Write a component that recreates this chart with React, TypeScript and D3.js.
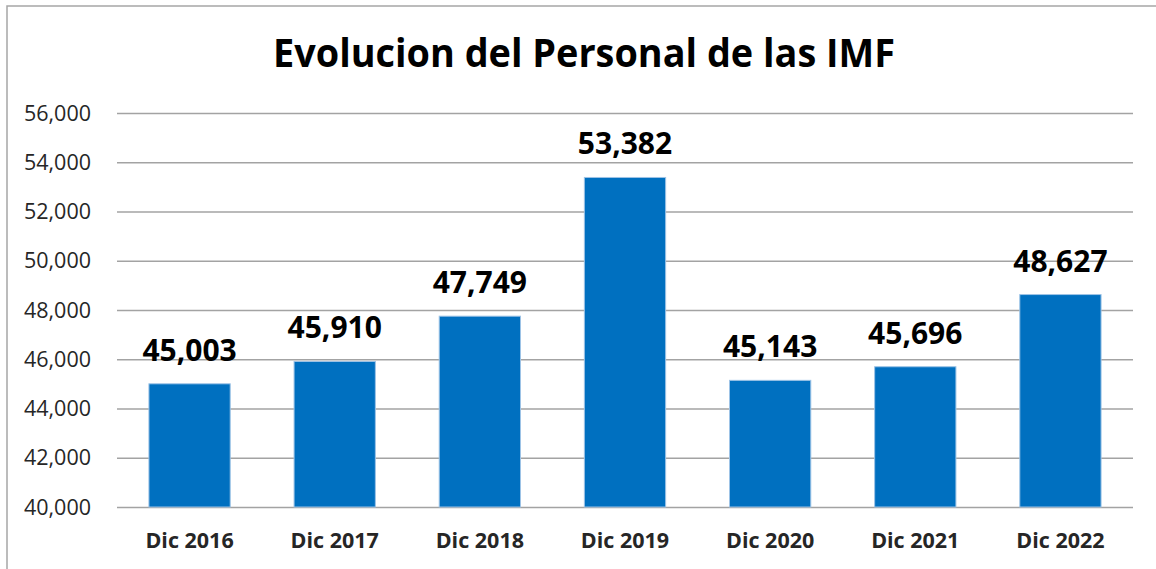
import React, { useEffect, useRef } from 'react';
import * as d3 from 'd3';

const periods = ['Dic 2016', 'Dic 2017', 'Dic 2018', 'Dic 2019', 'Dic 2020', 'Dic 2021', 'Dic 2022'];
const personal = [45003, 45910, 47749, 53382, 45143, 45696, 48627];
const yTicks = [40000, 42000, 44000, 46000, 48000, 50000, 52000, 54000, 56000];
const chartTitle = 'Evolucion del Personal de las IMF';

const W = 1156;
const H = 569;

export default function App() {
  const svgRef = useRef<SVGSVGElement>(null);

  useEffect(() => {
    const svg = d3.select(svgRef.current);
    svg.selectAll('*').remove();

    const font = "'Open Sans', 'Noto Sans', sans-serif";
    const margin = { top: 113, right: 23, bottom: 62, left: 117 };

    const x = d3
      .scaleBand()
      .domain(periods)
      .range([margin.left, W - margin.right])
      .paddingInner(0.44)
      .paddingOuter(0.22);

    const y = d3
      .scaleLinear()
      .domain([40000, 56000])
      .range([H - margin.bottom, margin.top]);

    // outer chart frame (cut off on right / bottom like the screenshot)
    svg.append('rect')
      .attr('x', 7).attr('y', 6)
      .attr('width', 1300).attr('height', 700)
      .attr('fill', '#fff')
      .attr('stroke', '#a6a6a6')
      .attr('stroke-width', 1.5);

    svg.append('text')
      .attr('x', 584)
      .attr('y', 67)
      .attr('text-anchor', 'middle')
      .attr('font-family', font)
      .attr('font-weight', 700)
      .attr('font-size', 40)
      .attr('textLength', 622)
      .attr('lengthAdjust', 'spacingAndGlyphs')
      .attr('fill', '#000')
      .text(chartTitle);

    // gridlines
    const grid = svg.append('g')
      .attr('transform', `translate(${margin.left},0)`)
      .call(
        d3.axisLeft(y)
          .tickValues(yTicks)
          .tickSize(-(W - margin.left - margin.right))
          .tickFormat(() => '')
      );
    grid.select('.domain').remove();
    grid.selectAll('line').attr('stroke', '#a3a3a3').attr('stroke-width', 1.5);

    // y labels
    svg.append('g')
      .selectAll('text')
      .data(yTicks)
      .enter()
      .append('text')
      .attr('x', 91)
      .attr('y', (d) => y(d))
      .attr('dy', '0.36em')
      .attr('text-anchor', 'end')
      .attr('font-family', font)
      .attr('font-size', 21.5)
      .attr('fill', '#262626')
      .text((d) => d3.format(',')(d));

    svg.append('g')
      .selectAll('rect')
      .data(personal)
      .enter()
      .append('rect')
      .attr('x', (d, i) => x(periods[i])!)
      .attr('y', (d) => y(d))
      .attr('width', x.bandwidth())
      .attr('height', (d) => y(40000) - y(d))
      .attr('fill', '#0070c0')
      .attr('stroke', '#9dc3e6')
      .attr('stroke-width', 1);

    // value labels
    svg.append('g')
      .selectAll('text')
      .data(personal)
      .enter()
      .append('text')
      .attr('x', (d, i) => x(periods[i])! + x.bandwidth() / 2)
      .attr('y', (d) => y(d) - 23)
      .attr('text-anchor', 'middle')
      .attr('font-family', font)
      .attr('font-weight', 700)
      .attr('font-size', 30)
      .attr('fill', '#000')
      .text((d) => d3.format(',')(d));

    // category labels
    svg.append('g')
      .selectAll('text')
      .data(periods)
      .enter()
      .append('text')
      .attr('x', (d) => x(d)! + x.bandwidth() / 2)
      .attr('y', 548)
      .attr('text-anchor', 'middle')
      .attr('font-family', font)
      .attr('font-weight', 700)
      .attr('font-size', 21.5)
      .attr('fill', '#262626')
      .text((d) => d);
  }, []);

  return (
    <svg
      ref={svgRef}
      width={W}
      height={H}
      style={{ position: 'absolute', left: 0, top: 0, background: '#fff' }}
    />
  );
}
